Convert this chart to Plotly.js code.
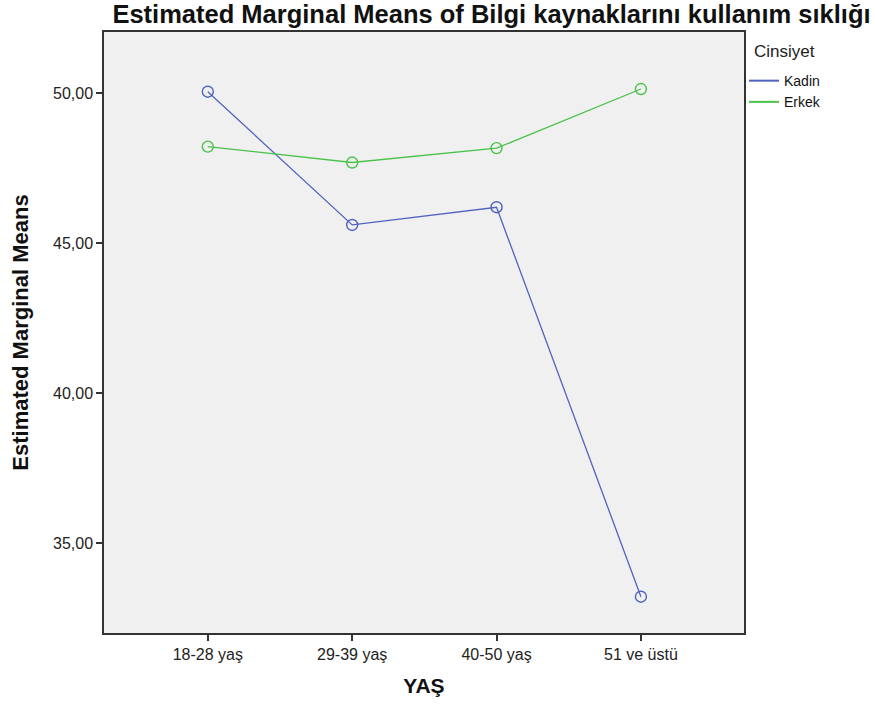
<!DOCTYPE html>
<html>
<head>
<meta charset="utf-8">
<script src="https://cdn.plot.ly/plotly-3.0.1.min.js"></script>
<style>body{margin:0;background:#fff}#chart{width:875px;height:706px}</style>
</head>
<body>
<div id="chart"></div>
<script>
const categories = ["18-28 yaş", "29-39 yaş", "40-50 yaş", "51 ve üstü"];
const kadinValues = [50.04, 45.60, 46.19, 33.21];
const erkekValues = [48.21, 47.68, 48.16, 50.13];
const yTickVals = [35, 40, 45, 50];
const yTickText = ["35,00", "40,00", "45,00", "50,00"];
const seriesNames = ["Kadin", "Erkek"];
const seriesColors = ["#5063c0", "#49c249"];

const traces = [
  {
    x: categories, y: kadinValues, name: seriesNames[0], type: "scatter", mode: "lines+markers",
    showlegend: false, hoverinfo: "x+y",
    line: {color: seriesColors[0], width: 1.3},
    marker: {symbol: "circle-open", size: 11, color: seriesColors[0], line: {width: 1.4}}
  },
  {
    x: categories, y: erkekValues, name: seriesNames[1], type: "scatter", mode: "lines+markers",
    showlegend: false, hoverinfo: "x+y",
    line: {color: seriesColors[1], width: 1.3},
    marker: {symbol: "circle-open", size: 11, color: seriesColors[1], line: {width: 1.4}}
  },
  // legend-only entries (line without marker, as in the reference legend)
  {x: [categories[0]], y: [null], name: seriesNames[0], type: "scatter", mode: "lines",
   line: {color: seriesColors[0], width: 2}},
  {x: [categories[0]], y: [null], name: seriesNames[1], type: "scatter", mode: "lines",
   line: {color: seriesColors[1], width: 2}}
];

const layout = {
  width: 875, height: 706,
  margin: {l: 104, r: 131, t: 32, b: 73},
  paper_bgcolor: "#ffffff",
  plot_bgcolor: "#f0f0f0",
  font: {family: "Liberation Sans, Arial, sans-serif", size: 15, color: "#222"},
  title: {
    text: "<b>Estimated Marginal Means of Bilgi kaynaklarını kullanım sıklığı</b>",
    font: {family: "Liberation Sans, Arial, sans-serif", size: 25.5, color: "#111"},
    xref: "container", yref: "container",
    x: 0.5617, xanchor: "center", y: 0.980, yanchor: "middle"
  },
  xaxis: {
    type: "category", range: [-0.719, 3.714],
    showgrid: false, zeroline: false,
    showline: true, linecolor: "#333", linewidth: 1.5, mirror: true,
    ticks: "outside", ticklen: 6, tickcolor: "#333", tickwidth: 1.5,
    tickfont: {size: 16, color: "#222"},
    title: {text: "<b>YAŞ</b>", font: {size: 21, color: "#111"}, standoff: 16}
  },
  yaxis: {
    range: [32.0, 52.03],
    tickvals: yTickVals, ticktext: yTickText,
    showgrid: false, zeroline: false,
    showline: true, linecolor: "#333", linewidth: 1.5, mirror: true,
    ticks: "outside", ticklen: 6, tickcolor: "#333", tickwidth: 1.5,
    tickfont: {size: 16, color: "#222"},
    title: {text: "<b>Estimated Marginal Means</b>", font: {size: 22, color: "#111"}, standoff: 18}
  },
  legend: {
    x: 1.0, xanchor: "left", y: 0.945, yanchor: "top",
    bgcolor: "rgba(0,0,0,0)",
    font: {size: 14, color: "#111"},
    itemwidth: 30, tracegroupgap: 0
  },
  annotations: [{
    text: "Cinsiyet", xref: "paper", yref: "paper", x: 1.012, y: 0.967,
    xanchor: "left", yanchor: "middle", showarrow: false,
    font: {size: 17, color: "#222"}
  }],
  showlegend: true
};

Plotly.newPlot("chart", traces, layout, {displayModeBar: false});
</script>
</body>
</html>
